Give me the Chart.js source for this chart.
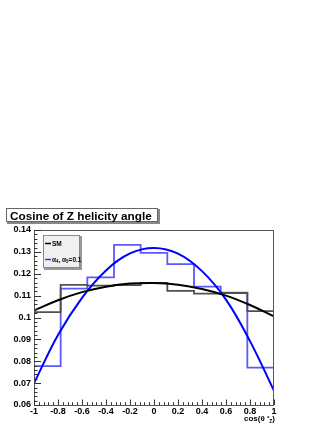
<!DOCTYPE html>
<html>
<head>
<meta charset="utf-8">
<script src="https://cdn.jsdelivr.net/npm/chart.js@4.4.1/dist/chart.umd.min.js"></script>
<style>
  html, body { margin: 0; padding: 0; background: #fff; }
  #wrap { width: 332px; height: 430px; }
</style>
</head>
<body>
<div id="wrap"><canvas id="helicity" width="332" height="430"></canvas></div>
<script>
'use strict';

// histogram binning (9 bins over [-1, 1])
const binEdges = [-1, -0.7778, -0.5556, -0.3333, -0.1111, 0.1111, 0.3333, 0.5556, 0.7778, 1];
// SM histogram
const smHist = [0.1025, 0.1149, 0.1146, 0.1148, 0.1158, 0.1122, 0.1109, 0.1112, 0.1029];
// alpha4, alpha5 = 0.1 histogram
const anHist = [0.0778, 0.1132, 0.1183, 0.1332, 0.1295, 0.1244, 0.1141, 0.1114, 0.0771];

// fitted curves, read at these points
const fitX  = [-1, -0.8, -0.6, -0.4, -0.2, 0, 0.2, 0.4, 0.6, 0.8, 1];
const smFit = [0.1032, 0.1079, 0.1116, 0.1141, 0.1155, 0.1158, 0.1150, 0.1130, 0.1100, 0.1057, 0.1005];
const anFit = [0.0699, 0.0920, 0.1090, 0.1215, 0.1293, 0.1318, 0.1292, 0.1212, 0.1082, 0.0892, 0.0665];

// axis ticks
const xTicks = [-1, -0.8, -0.6, -0.4, -0.2, 0, 0.2, 0.4, 0.6, 0.8, 1];
const yTicks = [0.06, 0.07, 0.08, 0.09, 0.1, 0.11, 0.12, 0.13, 0.14];

const FONT = '"Liberation Sans", Arial, Helvetica, sans-serif';

function histPoints( edges, vals ) {
	let pts = vals.map( ( v, i ) => ( { x: edges[i], y: v } ) );
	pts.push( { x: edges[edges.length - 1], y: vals[vals.length - 1] } );
	return pts;
}

function curvePoints( xs, ys ) {
	return xs.map( ( x, i ) => ( { x: x, y: ys[i] } ) );
}

function fmtTick( v ) {
	return String( +Number( v ).toFixed( 2 ) );
}

// draws a run of text pieces: [text, size, dy]
function drawPieces( ctx, pieces, x, y ) {
	let cx = x;
	pieces.forEach( p => {
		ctx.font = 'bold ' + p[1] + 'px ' + FONT;
		ctx.fillText( p[0], cx, y + p[2] );
		cx += ctx.measureText( p[0] ).width;
	});
	return cx;
}

function piecesWidth( ctx, pieces ) {
	let w = 0;
	pieces.forEach( p => {
		ctx.font = 'bold ' + p[1] + 'px ' + FONT;
		w += ctx.measureText( p[0] ).width;
	});
	return w;
}

// ROOT like frame, inward ticks, title, legend and axis title
const rootDecor = {
	id: 'rootDecor',
	afterDraw( chart ) {
		const ctx = chart.ctx;
		const a = chart.chartArea;
		const xs = chart.scales.x;
		const ys = chart.scales.y;
		ctx.save();

		// frame
		ctx.strokeStyle = '#555';
		ctx.lineWidth = 1;
		ctx.strokeRect( Math.round( a.left ) + 0.5, Math.round( a.top ) + 0.5,
			Math.round( a.width ) - 1, Math.round( a.height ) );

		// ticks
		ctx.strokeStyle = '#333';
		ctx.beginPath();
		for ( let i = 0; i < yTicks.length; i++ ) {
			let step = i < yTicks.length - 1 ? ( yTicks[i + 1] - yTicks[i] ) / 5 : 0;
			for ( let k = 0; k < 5; k++ ) {
				if ( k > 0 && step === 0 ) break;
				let py = Math.round( ys.getPixelForValue( yTicks[i] + k * step ) ) + 0.5;
				let len = k === 0 ? 7 : 3.5;
				ctx.moveTo( a.left, py );
				ctx.lineTo( a.left + len, py );
			}
		}
		for ( let i = 0; i < xTicks.length; i++ ) {
			let step = i < xTicks.length - 1 ? ( xTicks[i + 1] - xTicks[i] ) / 5 : 0;
			for ( let k = 0; k < 5; k++ ) {
				if ( k > 0 && step === 0 ) break;
				let px = Math.round( xs.getPixelForValue( xTicks[i] + k * step ) ) + 0.5;
				let len = k === 0 ? 5.5 : 2.8;
				ctx.moveTo( px, a.bottom );
				ctx.lineTo( px, a.bottom - len );
			}
		}
		ctx.stroke();

		// title box
		const title = 'Cosine of Z helicity angle';
		let fs = 13;
		ctx.font = 'bold ' + fs + 'px ' + FONT;
		while ( ctx.measureText( title ).width > 144 && fs > 6 ) {
			fs -= 0.25;
			ctx.font = 'bold ' + fs + 'px ' + FONT;
		}
		ctx.fillStyle = '#888';
		ctx.fillRect( 7, 209, 153, 15 );
		ctx.fillStyle = '#fff';
		ctx.fillRect( 6, 208, 152, 14 );
		ctx.strokeStyle = '#666';
		ctx.strokeRect( 6.5, 208.5, 151, 13 );
		ctx.fillStyle = '#000';
		ctx.textBaseline = 'alphabetic';
		ctx.textAlign = 'left';
		ctx.fillText( title, 10, 219.5 );

		// legend box
		ctx.fillStyle = '#999';
		ctx.fillRect( 44, 236, 38, 34 );
		ctx.fillStyle = '#f0f0f0';
		ctx.fillRect( 43, 235, 37, 33 );
		ctx.strokeStyle = '#888';
		ctx.strokeRect( 43.5, 235.5, 36, 32 );

		ctx.lineWidth = 1.5;
		ctx.strokeStyle = '#000';
		ctx.beginPath();
		ctx.moveTo( 45, 243.5 );
		ctx.lineTo( 51, 243.5 );
		ctx.stroke();
		ctx.fillStyle = '#000';
		drawPieces( ctx, [ [ 'SM', 6.5, 0 ] ], 52, 246 );

		ctx.strokeStyle = '#3333ff';
		ctx.beginPath();
		ctx.moveTo( 45, 259.5 );
		ctx.lineTo( 51, 259.5 );
		ctx.stroke();
		drawPieces( ctx, [
			[ '\u03b1', 6.5, 0 ], [ '4', 4.5, 1.5 ], [ ', \u03b1', 6.5, 0 ], [ '5', 4.5, 1.5 ], [ '=0.1', 6.5, 0 ]
		], 52, 261.5 );

		// x axis title
		const axt = [ [ 'cos(\u03b8 ', 8, 0 ], [ '*', 6, -1 ], [ 'Z', 5, 2 ], [ ')', 8, 0 ] ];
		let w = piecesWidth( ctx, axt );
		drawPieces( ctx, axt, 275 - w, 420.5 );

		ctx.restore();
	}
};

let ctx = document.getElementById( 'helicity' );

let helicityChart = new Chart( ctx, {
	type: 'line',
	data: {
		datasets: [
			{
				label: 'SM fit',
				data: curvePoints( fitX, smFit ),
				borderColor: '#000',
				borderWidth: 2,
				tension: 0.4,
				pointRadius: 0,
				fill: false,
				order: 0
			},
			{
				label: 'alpha fit',
				data: curvePoints( fitX, anFit ),
				borderColor: '#0000ff',
				borderWidth: 2,
				tension: 0.4,
				pointRadius: 0,
				fill: false,
				order: 0
			},
			{
				label: 'SM',
				data: histPoints( binEdges, smHist ),
				borderColor: '#505050',
				borderWidth: 1.8,
				stepped: 'before',
				pointRadius: 0,
				fill: false,
				order: 1
			},
			{
				label: 'alpha4, alpha5 = 0.1',
				data: histPoints( binEdges, anHist ),
				borderColor: '#5a5aff',
				borderWidth: 1.8,
				stepped: 'before',
				pointRadius: 0,
				fill: false,
				order: 1
			}
		]
	},
	options: {
		responsive: false,
		animation: false,
		devicePixelRatio: 1,
		layout: {
			padding: { top: 230, right: 58, bottom: 0, left: 0 }
		},
		plugins: {
			legend: { display: false },
			title: { display: false },
			tooltip: { enabled: false }
		},
		scales: {
			x: {
				type: 'linear',
				min: -1,
				max: 1,
				grid: { display: false, drawTicks: false },
				border: { display: false },
				afterBuildTicks: s => { s.ticks = xTicks.map( v => ( { value: v } ) ); },
				afterFit: s => { s.height = 25; },
				ticks: {
					autoSkip: false,
					maxRotation: 0,
					padding: 1,
					color: '#000',
					font: { family: FONT, size: 9, weight: 'bold' },
					callback: v => fmtTick( v )
				}
			},
			y: {
				min: 0.06,
				max: 0.14,
				grid: { display: false, drawTicks: false },
				border: { display: false },
				afterBuildTicks: s => { s.ticks = yTicks.map( v => ( { value: v } ) ); },
				afterFit: s => { s.width = 34; },
				ticks: {
					autoSkip: false,
					padding: 3,
					color: '#000',
					font: { family: FONT, size: 9, weight: 'bold' },
					callback: v => fmtTick( v )
				}
			}
		}
	},
	plugins: [ rootDecor ]
});
</script>
</body>
</html>
